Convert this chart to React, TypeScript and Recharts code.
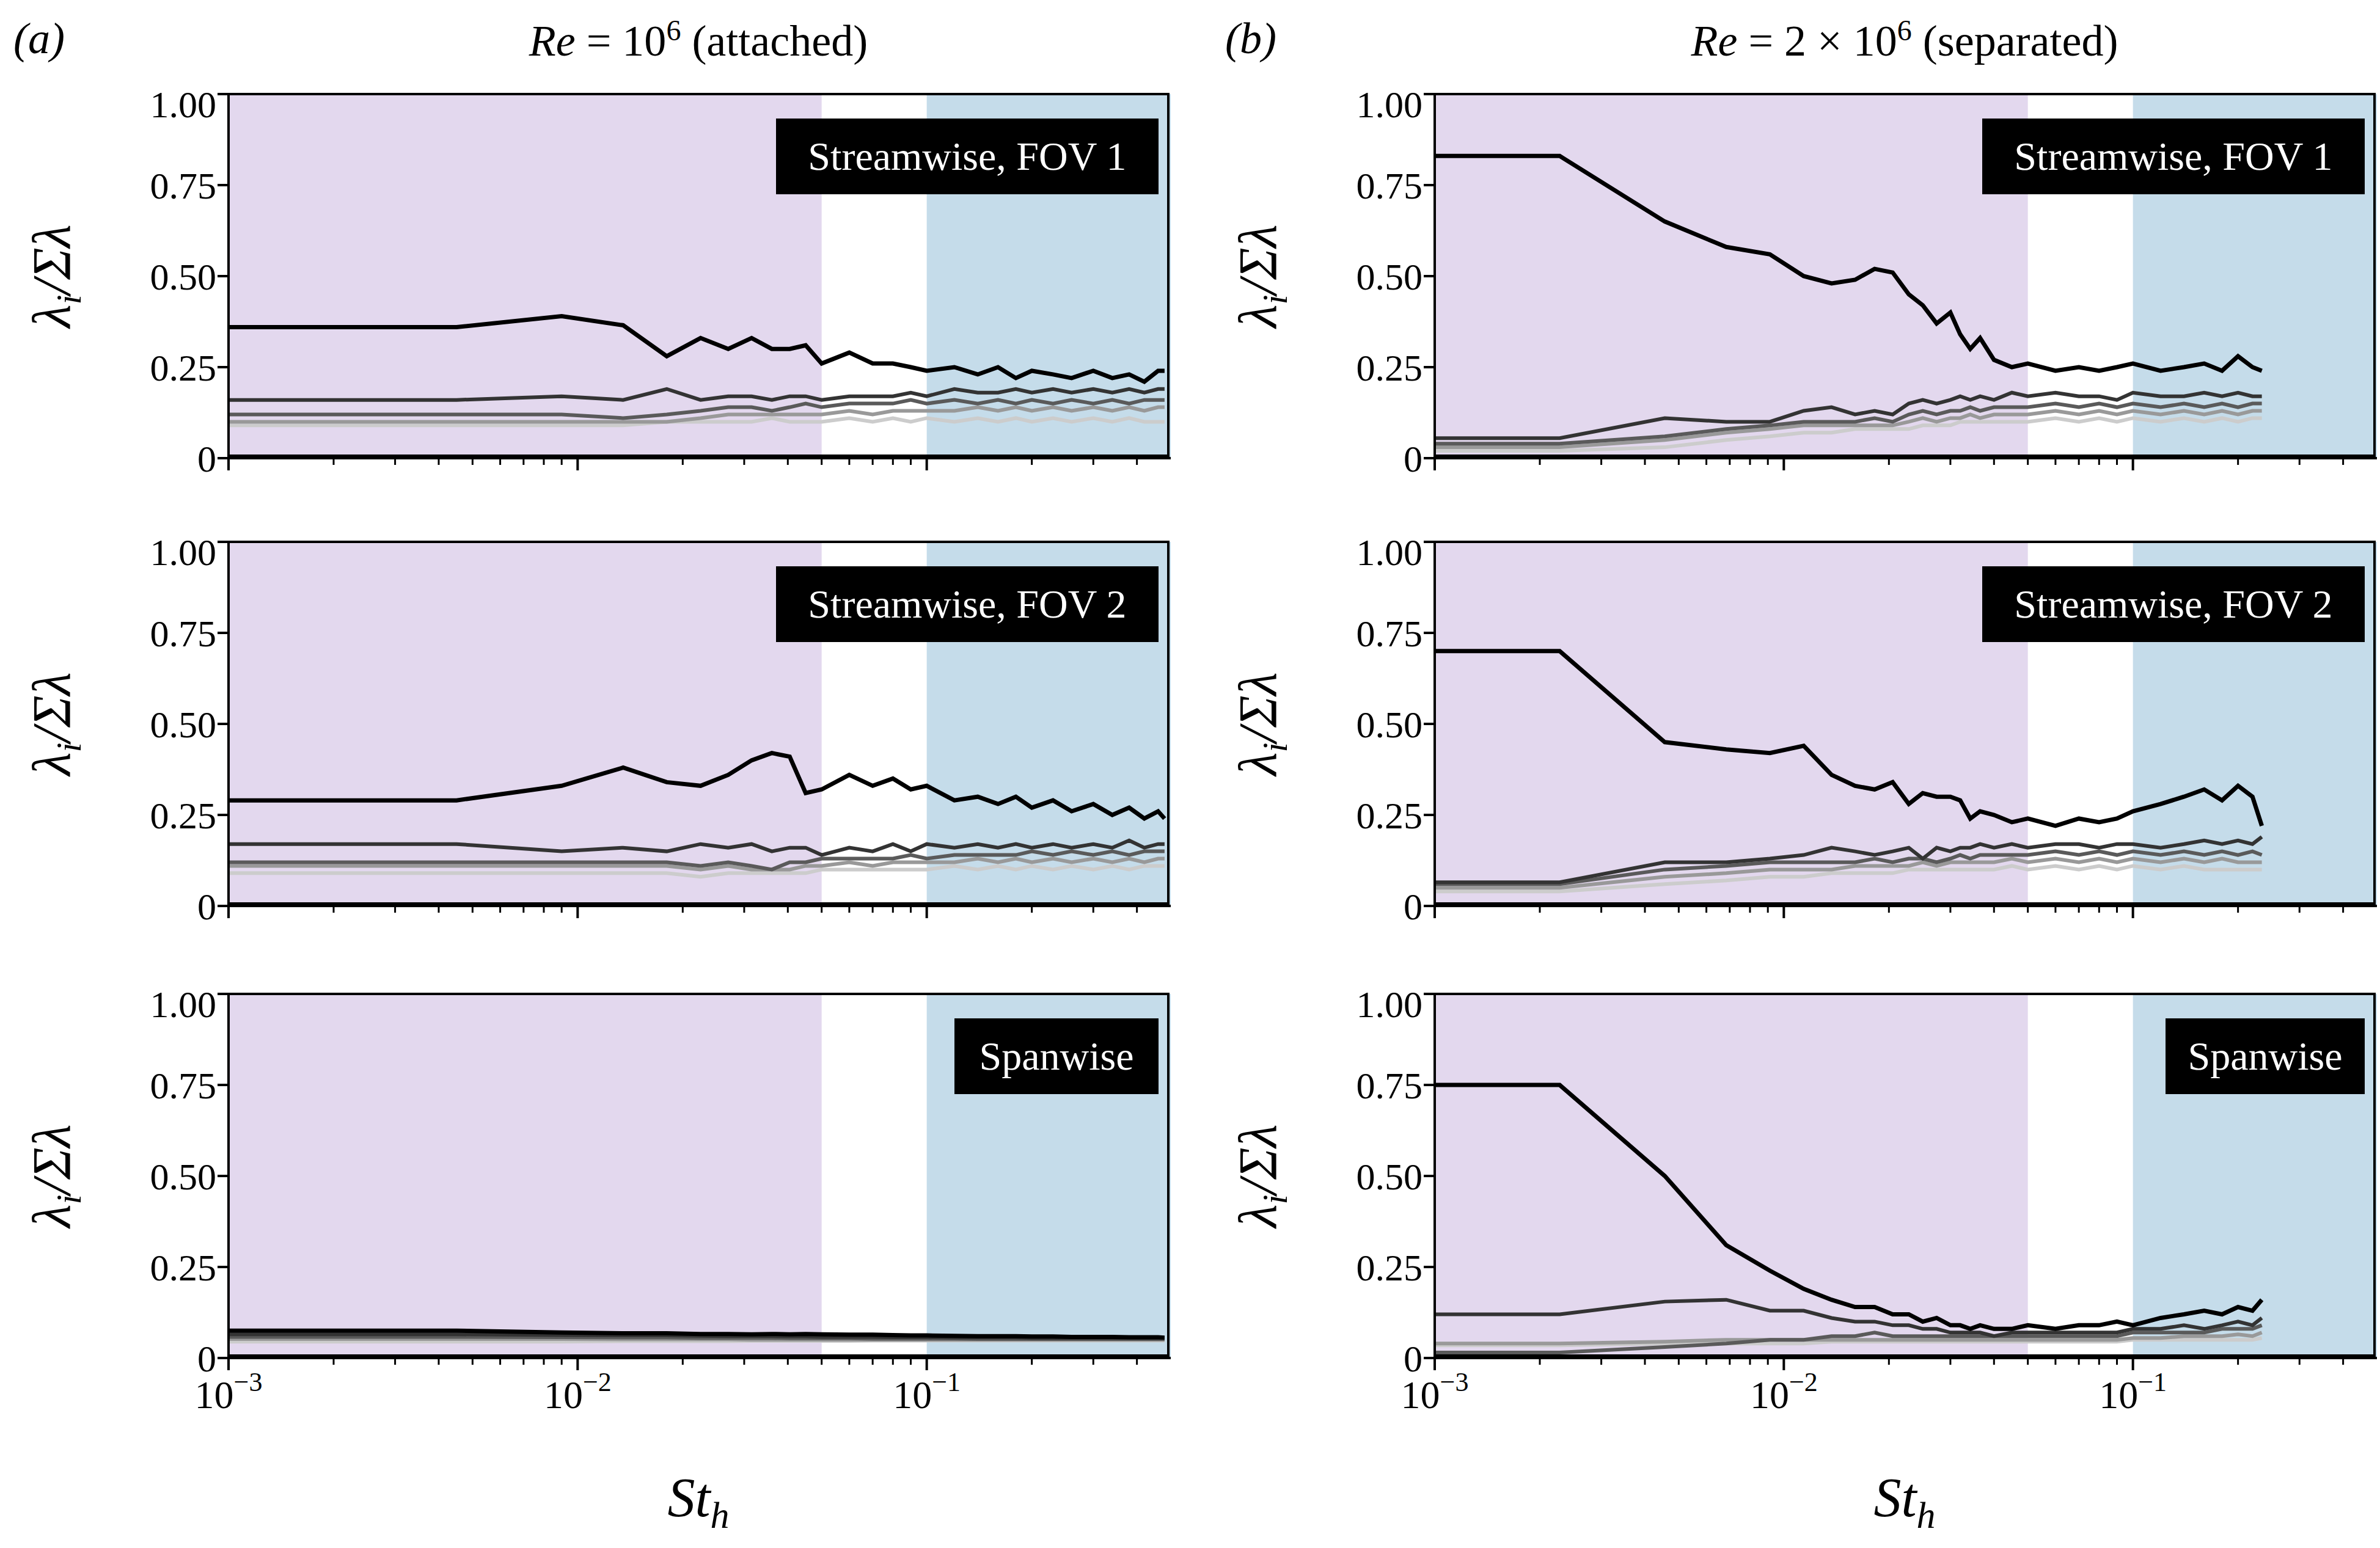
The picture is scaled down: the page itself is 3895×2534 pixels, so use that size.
import { ComposedChart, Line, XAxis, YAxis, ReferenceArea } from "recharts";

const freqA = [0.001, 0.0045, 0.009, 0.0135, 0.018, 0.0225, 0.027, 0.0315, 0.036, 0.0405, 0.045, 0.05, 0.06, 0.07, 0.08, 0.09, 0.1, 0.12, 0.14, 0.16, 0.18, 0.2, 0.23, 0.26, 0.3, 0.34, 0.38, 0.42, 0.46, 0.48];
const freqB = [0.001, 0.00228, 0.00456, 0.00684, 0.00912, 0.0114, 0.0137, 0.016, 0.0182, 0.0205, 0.0228, 0.025, 0.0274, 0.03, 0.032, 0.0342, 0.0365, 0.04, 0.045, 0.05, 0.06, 0.07, 0.08, 0.09, 0.1, 0.12, 0.14, 0.16, 0.18, 0.2, 0.22, 0.234];

// (a) attached, streamwise FOV 1
const a1 = [
  [0.36, 0.36, 0.39, 0.365, 0.28, 0.33, 0.3, 0.33, 0.3, 0.3, 0.31, 0.26, 0.29, 0.26, 0.26, 0.25, 0.24, 0.25, 0.23, 0.25, 0.22, 0.24, 0.23, 0.22, 0.24, 0.22, 0.23, 0.21, 0.24, 0.24],
  [0.16, 0.16, 0.17, 0.16, 0.19, 0.16, 0.17, 0.17, 0.16, 0.17, 0.17, 0.16, 0.17, 0.17, 0.17, 0.18, 0.17, 0.19, 0.18, 0.18, 0.19, 0.18, 0.19, 0.18, 0.19, 0.18, 0.19, 0.18, 0.19, 0.19],
  [0.12, 0.12, 0.12, 0.11, 0.12, 0.13, 0.14, 0.14, 0.13, 0.14, 0.15, 0.14, 0.15, 0.15, 0.15, 0.16, 0.15, 0.16, 0.15, 0.16, 0.15, 0.16, 0.15, 0.16, 0.15, 0.16, 0.15, 0.16, 0.16, 0.16],
  [0.1, 0.1, 0.1, 0.1, 0.1, 0.11, 0.12, 0.12, 0.12, 0.12, 0.12, 0.12, 0.13, 0.12, 0.13, 0.13, 0.13, 0.13, 0.14, 0.13, 0.14, 0.13, 0.14, 0.13, 0.14, 0.13, 0.14, 0.13, 0.14, 0.14],
  [0.09, 0.09, 0.09, 0.09, 0.1, 0.1, 0.1, 0.1, 0.11, 0.1, 0.1, 0.1, 0.11, 0.1, 0.11, 0.1, 0.11, 0.1, 0.11, 0.1, 0.11, 0.1, 0.11, 0.1, 0.11, 0.1, 0.11, 0.1, 0.1, 0.1],
];
// (a) streamwise FOV 2
const a2 = [
  [0.29, 0.29, 0.33, 0.38, 0.34, 0.33, 0.36, 0.4, 0.42, 0.41, 0.31, 0.32, 0.36, 0.33, 0.35, 0.32, 0.33, 0.29, 0.3, 0.28, 0.3, 0.27, 0.29, 0.26, 0.28, 0.25, 0.27, 0.24, 0.26, 0.24],
  [0.17, 0.17, 0.15, 0.16, 0.15, 0.17, 0.16, 0.17, 0.15, 0.16, 0.16, 0.14, 0.16, 0.15, 0.17, 0.15, 0.17, 0.16, 0.17, 0.16, 0.17, 0.16, 0.17, 0.16, 0.17, 0.16, 0.18, 0.16, 0.17, 0.17],
  [0.12, 0.12, 0.12, 0.12, 0.12, 0.11, 0.12, 0.11, 0.1, 0.12, 0.12, 0.13, 0.13, 0.13, 0.13, 0.14, 0.13, 0.14, 0.14, 0.14, 0.14, 0.15, 0.14, 0.15, 0.14, 0.15, 0.14, 0.15, 0.15, 0.15],
  [0.11, 0.11, 0.11, 0.11, 0.11, 0.1, 0.11, 0.1, 0.1, 0.1, 0.11, 0.11, 0.12, 0.11, 0.12, 0.12, 0.12, 0.12, 0.13, 0.12, 0.13, 0.12, 0.13, 0.12, 0.13, 0.12, 0.13, 0.12, 0.13, 0.13],
  [0.09, 0.09, 0.09, 0.09, 0.09, 0.08, 0.09, 0.09, 0.09, 0.09, 0.09, 0.1, 0.1, 0.1, 0.1, 0.1, 0.1, 0.11, 0.1, 0.11, 0.1, 0.11, 0.1, 0.11, 0.1, 0.11, 0.1, 0.11, 0.11, 0.11],
];
// (a) spanwise
const a3 = [
  [0.075, 0.075, 0.07, 0.068, 0.068, 0.066, 0.066, 0.065, 0.066, 0.065, 0.066, 0.065, 0.064, 0.064, 0.063, 0.062, 0.062, 0.061, 0.06, 0.06, 0.06, 0.059, 0.059, 0.058, 0.058, 0.058, 0.057, 0.057, 0.057, 0.056],
  [0.065, 0.065, 0.063, 0.062, 0.062, 0.061, 0.06, 0.06, 0.06, 0.059, 0.059, 0.058, 0.058, 0.058, 0.057, 0.057, 0.057, 0.056, 0.056, 0.056, 0.056, 0.055, 0.055, 0.055, 0.055, 0.055, 0.055, 0.055, 0.055, 0.055],
  [0.058, 0.058, 0.057, 0.056, 0.056, 0.055, 0.055, 0.055, 0.055, 0.054, 0.054, 0.054, 0.054, 0.053, 0.053, 0.053, 0.053, 0.053, 0.052, 0.052, 0.052, 0.052, 0.052, 0.052, 0.052, 0.052, 0.052, 0.052, 0.052, 0.052],
  [0.052, 0.052, 0.052, 0.051, 0.051, 0.051, 0.051, 0.05, 0.05, 0.05, 0.05, 0.05, 0.05, 0.05, 0.05, 0.05, 0.05, 0.05, 0.05, 0.05, 0.05, 0.05, 0.05, 0.05, 0.05, 0.05, 0.05, 0.05, 0.05, 0.05],
  [0.045, 0.045, 0.045, 0.046, 0.046, 0.046, 0.046, 0.047, 0.047, 0.047, 0.047, 0.047, 0.047, 0.048, 0.048, 0.048, 0.048, 0.048, 0.048, 0.048, 0.048, 0.048, 0.048, 0.048, 0.048, 0.048, 0.048, 0.048, 0.048, 0.048],
];
// (b) separated, streamwise FOV 1
const b1 = [
  [0.83, 0.83, 0.65, 0.58, 0.56, 0.5, 0.48, 0.49, 0.52, 0.51, 0.45, 0.42, 0.37, 0.4, 0.34, 0.3, 0.33, 0.27, 0.25, 0.26, 0.24, 0.25, 0.24, 0.25, 0.26, 0.24, 0.25, 0.26, 0.24, 0.28, 0.25, 0.24],
  [0.055, 0.055, 0.11, 0.1, 0.1, 0.13, 0.14, 0.12, 0.13, 0.12, 0.15, 0.16, 0.15, 0.16, 0.17, 0.16, 0.17, 0.16, 0.18, 0.17, 0.18, 0.17, 0.17, 0.16, 0.18, 0.17, 0.17, 0.18, 0.17, 0.18, 0.17, 0.17],
  [0.04, 0.04, 0.06, 0.08, 0.09, 0.1, 0.1, 0.1, 0.11, 0.1, 0.12, 0.13, 0.12, 0.13, 0.13, 0.14, 0.13, 0.14, 0.14, 0.14, 0.15, 0.14, 0.15, 0.14, 0.15, 0.14, 0.15, 0.14, 0.15, 0.14, 0.15, 0.15],
  [0.03, 0.03, 0.05, 0.07, 0.08, 0.09, 0.09, 0.09, 0.09, 0.09, 0.1, 0.11, 0.1, 0.11, 0.11, 0.12, 0.11, 0.12, 0.12, 0.12, 0.13, 0.12, 0.13, 0.12, 0.13, 0.12, 0.13, 0.12, 0.13, 0.12, 0.13, 0.13],
  [0.02, 0.02, 0.03, 0.05, 0.06, 0.07, 0.07, 0.08, 0.08, 0.08, 0.08, 0.09, 0.09, 0.09, 0.1, 0.1, 0.1, 0.1, 0.1, 0.1, 0.11, 0.1, 0.11, 0.1, 0.11, 0.1, 0.11, 0.1, 0.11, 0.1, 0.11, 0.11],
];
// (b) streamwise FOV 2
const b2 = [
  [0.7, 0.7, 0.45, 0.43, 0.42, 0.44, 0.36, 0.33, 0.32, 0.34, 0.28, 0.31, 0.3, 0.3, 0.29, 0.24, 0.26, 0.25, 0.23, 0.24, 0.22, 0.24, 0.23, 0.24, 0.26, 0.28, 0.3, 0.32, 0.29, 0.33, 0.3, 0.22],
  [0.065, 0.065, 0.12, 0.12, 0.13, 0.14, 0.16, 0.15, 0.14, 0.15, 0.16, 0.13, 0.16, 0.15, 0.16, 0.16, 0.17, 0.16, 0.17, 0.16, 0.17, 0.17, 0.16, 0.17, 0.17, 0.16, 0.17, 0.18, 0.17, 0.18, 0.17, 0.19],
  [0.06, 0.06, 0.1, 0.11, 0.12, 0.12, 0.12, 0.12, 0.13, 0.12, 0.13, 0.13, 0.12, 0.13, 0.14, 0.13, 0.14, 0.14, 0.14, 0.14, 0.15, 0.14, 0.15, 0.14, 0.15, 0.14, 0.15, 0.14, 0.15, 0.14, 0.15, 0.14],
  [0.05, 0.05, 0.08, 0.09, 0.1, 0.1, 0.1, 0.11, 0.11, 0.11, 0.11, 0.12, 0.11, 0.12, 0.12, 0.12, 0.12, 0.12, 0.13, 0.12, 0.13, 0.12, 0.13, 0.12, 0.13, 0.12, 0.13, 0.12, 0.13, 0.12, 0.12, 0.12],
  [0.04, 0.04, 0.06, 0.07, 0.08, 0.08, 0.09, 0.09, 0.09, 0.09, 0.1, 0.1, 0.1, 0.1, 0.1, 0.1, 0.1, 0.1, 0.11, 0.1, 0.11, 0.1, 0.11, 0.1, 0.11, 0.1, 0.11, 0.1, 0.1, 0.1, 0.1, 0.1],
];
// (b) spanwise
const b3 = [
  [0.75, 0.75, 0.5, 0.31, 0.24, 0.19, 0.16, 0.14, 0.14, 0.12, 0.12, 0.1, 0.11, 0.09, 0.09, 0.08, 0.09, 0.08, 0.08, 0.09, 0.08, 0.09, 0.09, 0.1, 0.09, 0.11, 0.12, 0.13, 0.12, 0.14, 0.13, 0.16],
  [0.12, 0.12, 0.155, 0.16, 0.13, 0.13, 0.11, 0.1, 0.1, 0.09, 0.09, 0.08, 0.08, 0.07, 0.07, 0.07, 0.07, 0.06, 0.07, 0.07, 0.07, 0.07, 0.07, 0.07, 0.08, 0.08, 0.09, 0.08, 0.09, 0.1, 0.09, 0.11],
  [0.015, 0.015, 0.03, 0.04, 0.05, 0.05, 0.06, 0.06, 0.07, 0.06, 0.06, 0.06, 0.06, 0.06, 0.06, 0.06, 0.06, 0.06, 0.06, 0.06, 0.06, 0.06, 0.06, 0.06, 0.07, 0.07, 0.07, 0.07, 0.08, 0.08, 0.08, 0.09],
  [0.04, 0.04, 0.045, 0.05, 0.05, 0.05, 0.05, 0.05, 0.05, 0.05, 0.05, 0.05, 0.05, 0.05, 0.05, 0.05, 0.05, 0.05, 0.05, 0.05, 0.05, 0.05, 0.05, 0.05, 0.055, 0.055, 0.06, 0.06, 0.06, 0.065, 0.06, 0.07],
  [0.035, 0.035, 0.04, 0.04, 0.04, 0.04, 0.045, 0.045, 0.045, 0.045, 0.045, 0.045, 0.045, 0.045, 0.045, 0.045, 0.045, 0.045, 0.045, 0.045, 0.045, 0.045, 0.045, 0.045, 0.05, 0.05, 0.05, 0.05, 0.05, 0.05, 0.05, 0.055],
];

const lineColors = ["#000000", "#333333", "#5a5a5a", "#999999", "#cccccc"];
const lineWidths = [7, 6, 6, 6, 6];
const yTicks = [0, 0.25, 0.5, 0.75, 1];
const yLabels = ["0", "0.25", "0.50", "0.75", "1.00"];
const xTicks = [0.001, 0.002, 0.003, 0.004, 0.005, 0.006, 0.007, 0.008, 0.009, 0.01, 0.02, 0.03, 0.04, 0.05, 0.06, 0.07, 0.08, 0.09, 0.1, 0.2, 0.3, 0.4];
const expLabels: Record<string, string> = { "0.001": "−3", "0.01": "−2", "0.1": "−1" };

const FONT = "'Liberation Serif', 'DejaVu Serif', serif";
const PLOT_W = 1542;
const PLOT_H = 596;
const ML = 250;
const YW = 124;

const XTick = (props: any) => {
  const { x, y, payload, showX } = props;
  const exp = expLabels[String(payload.value)];
  return (
    <g>
      <line x1={x} x2={x} y1={y} y2={y + (exp ? 20 : 11)} stroke="#000" strokeWidth={exp ? 4 : 3} />
      {exp && showX && (
        <text x={x} y={y + 82} textAnchor="middle" fontFamily={FONT} fontSize={64} fill="#000">
          10<tspan dy={-28} fontSize={44}>{exp}</tspan>
        </text>
      )}
    </g>
  );
};

const Panel = ({ freqs, series, left, top, label, labelW, showX }: any) => {
  const data = freqs.map((f: number, i: number) => {
    const row: any = { f };
    series.forEach((s: number[], k: number) => (row["s" + k] = s[i]));
    return row;
  });
  return (
    <div style={{ position: "absolute", left, top }}>
      <ComposedChart width={ML + YW + PLOT_W + 40} height={PLOT_H + 20 + 100} data={data} margin={{ top: 20, right: 40, bottom: 0, left: ML }}>
        <XAxis dataKey="f" type="number" scale="log" domain={[0.001, 0.5]} allowDataOverflow ticks={xTicks} interval={0} tick={<XTick showX={showX} />} tickSize={0} tickMargin={0} tickLine={false} axisLine={{ stroke: "#000", strokeWidth: 4 }} height={100} />
        <YAxis type="number" domain={[0, 1]} ticks={yTicks} width={YW} tickSize={18} tickFormatter={(v: number) => yLabels[yTicks.indexOf(v)]} tick={{ fontFamily: FONT, fontSize: 62, fill: "#000" }} axisLine={{ stroke: "#000", strokeWidth: 4 }} tickLine={{ stroke: "#000", strokeWidth: 4 }} />
        <ReferenceArea x1={0.001} x2={0.05} y1={0} y2={1} fill="#e3d8ee" fillOpacity={1} stroke="none" ifOverflow="hidden" />
        <ReferenceArea x1={0.1} x2={0.5} y1={0} y2={1} fill="#c5dcea" fillOpacity={1} stroke="none" ifOverflow="hidden" />
        {[4, 3, 2, 1, 0].map((k) => (
          <Line key={k} dataKey={"s" + k} stroke={lineColors[k]} strokeWidth={lineWidths[k]} dot={false} isAnimationActive={false} type="linear" />
        ))}
      </ComposedChart>
      <div style={{ position: "absolute", left: ML + YW, top: 20, width: PLOT_W, height: PLOT_H, border: "4px solid #000", boxSizing: "border-box", marginLeft: -2, marginTop: -2, pointerEvents: "none" }} />
      <div style={{ position: "absolute", left: ML + YW + PLOT_W - 20 - labelW, top: 60, width: labelW, height: 124, background: "#000", color: "#fff", fontFamily: FONT, fontSize: 66, display: "flex", alignItems: "center", justifyContent: "center", whiteSpace: "nowrap" }}>{label}</div>
      <div style={{ position: "absolute", left: 20, top: 20 + PLOT_H / 2, transform: "translate(-50%,-50%) rotate(-90deg)", transformOrigin: "center", marginLeft: 70, fontFamily: FONT, fontSize: 88, fontStyle: "italic", whiteSpace: "nowrap" }}>
        λ<sub style={{ fontSize: 58 }}>i</sub>/Σλ
      </div>
    </div>
  );
};

const rows = [134, 867, 1607];
const textStyle: any = { position: "absolute", fontFamily: FONT, fontSize: 72, whiteSpace: "nowrap" };

export default function App() {
  return (
    <div style={{ position: "absolute", left: 0, top: 0, width: 3895, height: 2534, background: "#fff" }}>
      <Panel freqs={freqA} series={a1} left={0} top={rows[0]} label="Streamwise, FOV 1" labelW={626} />
      <Panel freqs={freqA} series={a2} left={0} top={rows[1]} label="Streamwise, FOV 2" labelW={626} />
      <Panel freqs={freqA} series={a3} left={0} top={rows[2]} label="Spanwise" labelW={334} showX />
      <Panel freqs={freqB} series={b1} left={1974} top={rows[0]} label="Streamwise, FOV 1" labelW={626} />
      <Panel freqs={freqB} series={b2} left={1974} top={rows[1]} label="Streamwise, FOV 2" labelW={626} />
      <Panel freqs={freqB} series={b3} left={1974} top={rows[2]} label="Spanwise" labelW={326} showX />
      <div style={{ ...textStyle, left: 22, top: 22, fontStyle: "italic" }}>(a)</div>
      <div style={{ ...textStyle, left: 2005, top: 22, fontStyle: "italic" }}>(b)</div>
      <div style={{ ...textStyle, left: 1143, top: 22, transform: "translateX(-50%)" }}>
        <i>Re</i> = 10<sup style={{ fontSize: 48 }}>6</sup> (attached)
      </div>
      <div style={{ ...textStyle, left: 3117, top: 22, transform: "translateX(-50%)" }}>
        <i>Re</i> = 2 × 10<sup style={{ fontSize: 48 }}>6</sup> (separated)
      </div>
      <div style={{ ...textStyle, left: 1143, top: 2400, fontSize: 90, fontStyle: "italic", transform: "translateX(-50%)" }}>
        St<sub style={{ fontSize: 62 }}>h</sub>
      </div>
      <div style={{ ...textStyle, left: 3117, top: 2400, fontSize: 90, fontStyle: "italic", transform: "translateX(-50%)" }}>
        St<sub style={{ fontSize: 62 }}>h</sub>
      </div>
    </div>
  );
}
